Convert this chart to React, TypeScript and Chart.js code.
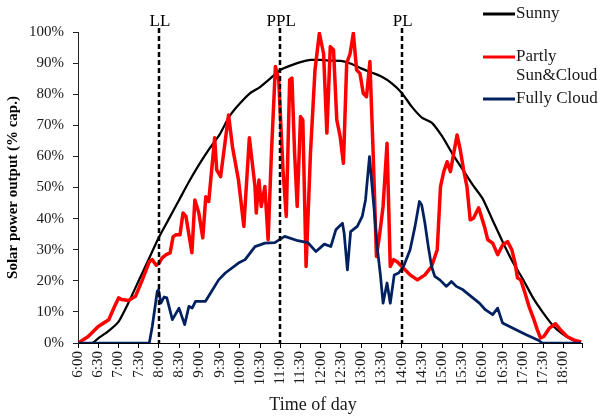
import React, { useEffect, useRef } from 'react';
import { Chart, registerables } from 'chart.js';

Chart.register(...registerables);

const FONT = '"Liberation Serif", "Times New Roman", serif';

const tickLabels = [
  '6:00', '6:30', '7:00', '7:30', '8:00', '8:30', '9:00', '9:30', '10:00', '10:30',
  '11:00', '11:30', '12:00', '12:30', '13:00', '13:30', '14:00', '14:30', '15:00',
  '15:30', '16:00', '16:30', '17:00', '17:30', '18:00',
];
const axisEnd = 18.46;

const yTicks = [0, 10, 20, 30, 40, 50, 60, 70, 80, 90, 100];

const sunnyTime = [6, 6.35, 6.5, 6.75, 7, 7.25, 7.5, 7.75, 8, 8.25, 8.5, 8.75, 9, 9.25, 9.5, 9.75, 10, 10.25, 10.5, 10.75, 11, 11.25, 11.5, 11.75, 12, 12.25, 12.5, 12.75, 13, 13.25, 13.5, 13.75, 14, 14.25, 14.5, 14.75, 15, 15.25, 15.5, 15.75, 16, 16.25, 16.5, 16.75, 17, 17.25, 17.5, 17.75, 18, 18.25, 18.42];
const sunnyValue = [0, 0, 1.5, 3.8, 6.8, 13, 20, 27, 34, 40, 46, 52, 57.5, 62.5, 67, 73, 77, 80.3, 82.3, 85, 87.8, 89.2, 90.3, 91, 91, 90.8, 90.7, 89.8, 88.3, 87, 85.7, 83.6, 80.5, 76, 72.5, 70.8, 66.5, 61, 56, 51, 46.5, 39.5, 32.5, 26, 20.5, 14.5, 9.7, 5.5, 2.7, 0.8, 0];

const partlyTime = [6, 6.245, 6.5, 6.76, 6.906, 7.004, 7.077, 7.249, 7.42, 7.591, 7.763, 7.836, 7.934, 8.008, 8.081, 8.179, 8.277, 8.351, 8.424, 8.522, 8.596, 8.669, 8.816, 8.889, 8.987, 9.085, 9.159, 9.232, 9.379, 9.428, 9.526, 9.722, 9.82, 9.967, 10.1, 10.236, 10.376, 10.407, 10.474, 10.53, 10.62, 10.7, 10.782, 10.88, 10.963, 11.068, 11.149, 11.233, 11.289, 11.355, 11.419, 11.502, 11.558, 11.639, 11.747, 11.859, 11.967, 12.072, 12.153, 12.237, 12.317, 12.398, 12.481, 12.562, 12.643, 12.726, 12.807, 12.888, 12.971, 13.052, 13.133, 13.216, 13.297, 13.378, 13.461, 13.542, 13.64, 13.72, 13.804, 13.884, 14.007, 14.21, 14.391, 14.577, 14.741, 14.881, 14.962, 15.043, 15.126, 15.207, 15.371, 15.452, 15.532, 15.616, 15.696, 15.777, 15.905, 16.047, 16.13, 16.252, 16.375, 16.497, 16.619, 16.725, 16.806, 16.864, 16.945, 17.026, 17.149, 17.271, 17.354, 17.435, 17.516, 17.655, 17.802, 17.925, 18.089, 18.292, 18.439];
const partlyValue = [0, 2, 5.3, 7.5, 11.8, 14.5, 14, 13.7, 15, 20.3, 26.2, 26.8, 25, 25.8, 27.4, 28.4, 29, 34.2, 34.8, 34.8, 41.8, 40.7, 29, 46, 41.8, 33.8, 47, 45.5, 66, 55.7, 53.5, 73.3, 63, 52.4, 37.5, 66, 50.3, 41.8, 52.4, 43.9, 50.3, 33.2, 61, 88.9, 84.6, 55.7, 40.7, 84.6, 85.2, 61, 43.9, 72.8, 71.7, 24.6, 61, 87.8, 99.6, 93, 67.5, 95.3, 94.2, 71.7, 66.4, 57.8, 90, 93, 99.6, 87.8, 86.7, 80.3, 79.2, 90.5, 61, 27.8, 35.3, 43.9, 64.2, 24.6, 26.8, 26.2, 24.6, 21.9, 20.3, 21.9, 24.6, 30, 50.3, 55.1, 58.3, 55.1, 66.9, 62, 55.7, 50.3, 39.6, 40.1, 43.5, 37.5, 33.2, 32.1, 28.4, 31.5, 32.6, 30, 25.7, 21, 20.3, 17.1, 11.8, 7.5, 4.3, 1.6, 2.1, 4.8, 6.2, 4.3, 2.1, 0.8, 0.3];

const cloudTime = [6, 7.763, 7.836, 7.959, 7.99, 8.05, 8.13, 8.196, 8.333, 8.497, 8.637, 8.742, 8.823, 8.906, 9.151, 9.274, 9.477, 9.641, 9.967, 10.131, 10.376, 10.62, 10.865, 11.11, 11.436, 11.68, 11.884, 12.09, 12.25, 12.374, 12.538, 12.58, 12.66, 12.74, 12.905, 13.027, 13.108, 13.206, 13.314, 13.395, 13.475, 13.542, 13.64, 13.72, 13.818, 13.926, 14.048, 14.21, 14.332, 14.44, 14.497, 14.577, 14.66, 14.741, 14.822, 14.945, 15.109, 15.231, 15.354, 15.518, 15.762, 15.924, 16.07, 16.252, 16.375, 16.497, 16.742, 17.068, 17.393, 17.476, 18.44];
const cloudValue = [0, 0, 5.3, 16.6, 17.1, 12.8, 14.8, 14.5, 7.5, 11.2, 5.9, 11.8, 11.2, 13.4, 13.4, 16, 20.3, 22.5, 25.7, 26.8, 31, 32.1, 32.3, 34.3, 32.9, 32.3, 29.4, 31.8, 31, 36.4, 38.5, 35.3, 23.5, 35.8, 37.5, 40.7, 46, 59.9, 43.9, 31, 22, 12.8, 19.3, 12.8, 21.9, 22.5, 24.6, 30, 37.5, 45.5, 44.4, 38.5, 31, 24.6, 21.4, 20.3, 18.2, 19.8, 18.2, 17.1, 14.5, 12.8, 10.7, 9.1, 11.2, 6.4, 4.8, 2.7, 0.8, 0, 0];

const seriesNames = ['Sunny', 'Partly\nSun&Cloud', 'Fully Cloud'];
const seriesColors = ['#000000', '#FF0000', '#002060'];

const markerTimes = [8, 11, 14];
const markerLabels = ['LL', 'PPL', 'PL'];

const yTitle = 'Solar power output (% cap.)';
const xTitle = 'Time of day';

function parseTime(s: string): number {
  const [h, m] = s.split(':').map(Number);
  return h + m / 60;
}

function toPoints(t: number[], v: number[]) {
  return t.map((x, i) => ({ x, y: v[i] }));
}

const overlayPlugin = {
  id: 'overlay',
  afterDatasetsDraw(chart: any) {
    const { ctx, chartArea, scales } = chart;
    const x = scales.x;
    ctx.save();
    // dashed markers
    ctx.strokeStyle = '#000';
    ctx.lineWidth = 2.5;
    ctx.setLineDash([5, 3]);
    markerTimes.forEach((t) => {
      const px = Math.round(x.getPixelForValue(t));
      ctx.beginPath();
      ctx.moveTo(px, chartArea.top - 4);
      ctx.lineTo(px, chartArea.bottom);
      ctx.stroke();
    });
    ctx.setLineDash([]);
    ctx.fillStyle = '#000';
    ctx.font = `17px ${FONT}`;
    ctx.textAlign = 'center';
    ctx.textBaseline = 'alphabetic';
    markerLabels.forEach((l, i) => {
      ctx.fillText(l, x.getPixelForValue(markerTimes[i]) + 1, chartArea.top - 6);
    });

    // legend
    const lx0 = chartArea.right - 99;
    const lx1 = chartArea.right - 67;
    const rows = [14, 57, 99];
    ctx.font = `17px ${FONT}`;
    ctx.textAlign = 'left';
    ctx.textBaseline = 'middle';
    seriesNames.forEach((name, i) => {
      ctx.strokeStyle = seriesColors[i];
      ctx.lineWidth = 3;
      ctx.beginPath();
      ctx.moveTo(lx0, rows[i]);
      ctx.lineTo(lx1, rows[i]);
      ctx.stroke();
      ctx.fillStyle = '#1a1a1a';
      name.split('\n').forEach((line, j) => {
        ctx.fillText(line, lx1 + 1, rows[i] + j * 19);
      });
    });

    // x title
    ctx.font = `18px ${FONT}`;
    ctx.textAlign = 'center';
    ctx.fillStyle = '#1a1a1a';
    ctx.fillText(xTitle, (chartArea.left + chartArea.right) / 2 - 17, chart.height - 13);
    ctx.restore();
  },
};

export default function App() {
  const ref = useRef<HTMLCanvasElement | null>(null);

  useEffect(() => {
    if (!ref.current) return;
    const tickValues = tickLabels.map(parseTime);
    const chart = new Chart(ref.current, {
      type: 'line',
      data: {
        datasets: [
          {
            label: seriesNames[0],
            data: toPoints(sunnyTime, sunnyValue),
            borderColor: seriesColors[0],
            borderWidth: 2.25,
            pointRadius: 0,
            tension: 0.2,
            order: 3,
          },
          {
            label: seriesNames[1],
            data: toPoints(partlyTime, partlyValue),
            borderColor: seriesColors[1],
            borderWidth: 3.5,
            pointRadius: 0,
            tension: 0,
            borderJoinStyle: 'round',
            order: 2,
          },
          {
            label: seriesNames[2],
            data: toPoints(cloudTime, cloudValue),
            borderColor: seriesColors[2],
            borderWidth: 2.75,
            pointRadius: 0,
            tension: 0,
            borderJoinStyle: 'round',
            order: 1,
          },
        ],
      },
      options: {
        responsive: false,
        animation: false,
        events: [],
        layout: { padding: { left: 0, top: 32, right: 16, bottom: 0 } },
        plugins: { legend: { display: false }, tooltip: { enabled: false } },
        scales: {
          x: {
            type: 'linear',
            min: 6,
            max: axisEnd,
            afterBuildTicks: (scale: any) => {
              scale.ticks = [...tickValues.map((v) => ({ value: v })), { value: axisEnd }];
            },
            afterFit: (scale: any) => {
              scale.height = 75;
            },
            grid: {
              drawOnChartArea: false,
              drawTicks: true,
              tickLength: 5,
              color: '#000',
            },
            border: { display: true, color: '#000', width: 1 },
            ticks: {
              autoSkip: false,
              minRotation: 90,
              maxRotation: 90,
              padding: 3,
              color: '#1a1a1a',
              font: { family: FONT, size: 15 },
              callback: (v: any) => {
                const i = tickValues.findIndex((t) => Math.abs(t - v) < 1e-6);
                return i >= 0 ? tickLabels[i] : '';
              },
            },
          },
          y: {
            min: 0,
            max: 100,
            afterBuildTicks: (scale: any) => {
              scale.ticks = yTicks.map((v) => ({ value: v }));
            },
            afterFit: (scale: any) => {
              scale.width = 78;
            },
            grid: {
              drawOnChartArea: false,
              drawTicks: true,
              tickLength: 5,
              color: '#222',
            },
            border: { display: true, color: '#222', width: 1 },
            ticks: {
              padding: 9,
              color: '#1a1a1a',
              font: { family: FONT, size: 15 },
              callback: (v: any) => `${v}%`,
            },
            title: {
              display: true,
              text: yTitle,
              color: '#000',
              font: { family: FONT, size: 15, weight: 'bold' },
              padding: { top: 4, bottom: 4 },
            },
          },
        },
      },
      plugins: [overlayPlugin],
    } as any);
    return () => chart.destroy();
  }, []);

  return (
    <div style={{ position: 'fixed', left: 0, top: 0, width: 603, height: 418, background: '#fff' }}>
      <canvas ref={ref} width={603} height={418} style={{ width: 603, height: 418, display: 'block' }} />
    </div>
  );
}
